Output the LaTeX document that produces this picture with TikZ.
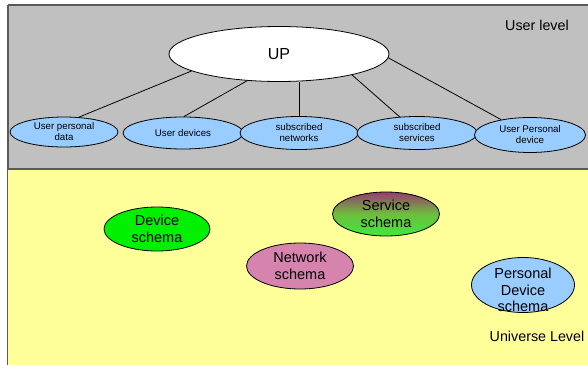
\documentclass[tikz,border=0pt]{standalone}
\usepackage{fontspec}
\setmainfont{Liberation Sans}
\usetikzlibrary{shapes.geometric}
\definecolor{greybg}{RGB}{192,192,192}
\definecolor{yellowbg}{RGB}{255,255,153}
\definecolor{lightblue}{RGB}{153,204,255}
\definecolor{devgreen}{RGB}{0,240,0}
\definecolor{netpink}{RGB}{214,131,174}
\definecolor{svtop}{RGB}{150,60,110}
\definecolor{svmid}{RGB}{110,190,60}
\definecolor{svbot}{RGB}{60,235,60}
\definecolor{frame}{RGB}{90,90,90}
\tikzset{
  ell/.style={ellipse, draw=black, line width=0.8pt, inner sep=0pt, align=center},
  small/.style={ell, fill=lightblue, font=\fontsize{9.7}{11}\selectfont},
  schemabox/.style={ell, font=\fontsize{14.5}{16.5}\selectfont},
  conn/.style={draw=black, line width=0.8pt},
  lvl/.style={font=\fontsize{14.3}{16}\selectfont, inner sep=0pt}
}
\begin{document}
\begin{tikzpicture}[x=1pt,y=-1pt]
\useasboundingbox (0,0) rectangle (588,364);
\clip (0,0) rectangle (588,364);
% background regions
\fill[yellowbg] (7,169) rectangle (600,380);
\draw[frame, line width=1.6pt] (7.5,169) -- (7.5,380);
\fill[greybg] (8,5) rectangle (600,169);
\draw[frame, line width=1.2pt] (600,5) -- (8,5);
\draw[frame, line width=1.6pt] (8,5) -- (8,169);
\draw[frame, line width=1.6pt] (7,169) -- (600,169);
% top level
\node[ell, fill=white, minimum width=220pt, minimum height=55pt, font=\fontsize{16}{18}\selectfont] (up) at (279,54) {UP};
\node[lvl] (ul) at (537,25) {User level};
\node[small, minimum width=108pt, minimum height=30pt] (upd) at (64,132) {User personal\\data};
\node[small, minimum width=120pt, minimum height=32pt] (udev) at (183,133) {User devices};
\node[small, minimum width=118pt, minimum height=33pt] (snet) at (299,133) {subscribed\\networks};
\node[small, minimum width=120pt, minimum height=33pt] (ssrv) at (417,133) {subscribed\\services};
\node[small, minimum width=111pt, minimum height=35pt] (upers) at (530,135) {User Personal\\device};
\draw[conn] (up.191) -- (upd.45);
\draw[conn] (up.220) -- (udev.87);
\draw[conn] (up.south -| snet.north) -- (snet.north);
\draw[conn] (up.344) -- (ssrv.137);
\draw[conn] (up.-2) -- (upers.152);
% universe level
\node[schemabox, fill=devgreen, minimum width=106pt, minimum height=44pt] (dev) at (157,229) {Device\\schema};
\node[schemabox, fill=netpink, minimum width=107pt, minimum height=46pt] (net) at (300,266) {Network\\schema};
\node[schemabox, top color=svtop, bottom color=svbot, middle color=svmid, minimum width=107pt, minimum height=44pt] (srv) at (386,214) {Service\\schema};
\node[ell, fill=lightblue, minimum width=103pt, minimum height=55pt] (pds) at (523,285) {};
\node[font=\fontsize{14.5}{16.5}\selectfont, align=center, inner sep=0pt] (pdst) at (523,290) {Personal\\Device\\schema};
\node[lvl] (unl) at (537,336) {Universe Level};
\end{tikzpicture}
\end{document}
